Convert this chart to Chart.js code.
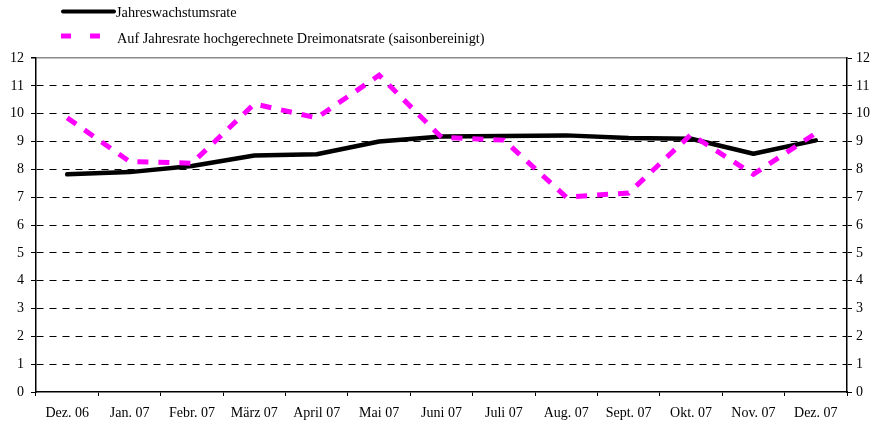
<!DOCTYPE html>
<html>
<head>
<meta charset="utf-8">
<script src="https://cdn.jsdelivr.net/npm/chart.js@4/dist/chart.umd.min.js"></script>
<style>
html,body{margin:0;padding:0;background:#fff;}
#wrap{width:874px;height:425px;position:relative;}
</style>
</head>
<body>
<div id="wrap"><canvas id="c" width="874" height="425"></canvas></div>
<script>
const categories = ["Dez. 06","Jan. 07","Febr. 07","März 07","April 07","Mai 07","Juni 07","Juli 07","Aug. 07","Sept. 07","Okt. 07","Nov. 07","Dez. 07"];
const annualGrowth = [7.82, 7.9, 8.12, 8.5, 8.54, 9.0, 9.18, 9.2, 9.22, 9.13, 9.1, 8.56, 9.04];
const threeMonthRate = [9.85, 8.28, 8.22, 10.35, 9.85, 11.38, 9.15, 9.05, 7.0, 7.15, 9.25, 7.82, 9.3];
const yTicks = [0,1,2,3,4,5,6,7,8,9,10,11,12];
const seriesNames = ["Jahreswachstumsrate", "Auf Jahresrate hochgerechnete Dreimonatsrate (saisonbereinigt)"];

const FONT = "'Liberation Serif', 'Times New Roman', serif";

const legendPlugin = {
  id: 'customLegend',
  afterDraw(chart) {
    const ctx = chart.ctx;
    ctx.save();
    ctx.strokeStyle = '#000';
    ctx.lineWidth = 4;
    ctx.lineCap = 'round';
    ctx.beginPath();
    ctx.moveTo(63, 11.5);
    ctx.lineTo(114, 11.5);
    ctx.stroke();
    ctx.strokeStyle = '#ff00ff';
    ctx.lineWidth = 5;
    ctx.lineCap = 'butt';
    ctx.setLineDash([10, 19]);
    ctx.beginPath();
    ctx.moveTo(61, 36);
    ctx.lineTo(101, 36);
    ctx.stroke();
    ctx.setLineDash([]);
    ctx.fillStyle = '#000';
    ctx.font = "14.3px " + FONT;
    ctx.textBaseline = 'alphabetic';
    ctx.textAlign = 'left';
    ctx.fillText(seriesNames[0], 116, 17);
    ctx.fillText(seriesNames[1], 117, 43);
    ctx.restore();
  }
};

new Chart(document.getElementById('c'), {
  type: 'line',
  data: {
    labels: categories,
    datasets: [
      {
        label: seriesNames[1],
        data: threeMonthRate,
        borderColor: '#ff00ff',
        borderWidth: 5,
        borderDash: [11, 10],
        borderCapStyle: 'butt',
        pointRadius: 0,
        tension: 0,
        fill: false,
        yAxisID: 'y'
      },
      {
        label: seriesNames[0],
        data: annualGrowth,
        borderColor: '#000',
        borderWidth: 4.5,
        borderCapStyle: 'round',
        borderJoinStyle: 'round',
        pointRadius: 0,
        tension: 0,
        fill: false,
        yAxisID: 'y'
      }
    ]
  },
  options: {
    responsive: false,
    animation: false,
    devicePixelRatio: 1,
    layout: { padding: { top: 58, left: 0, right: 0, bottom: 0 } },
    plugins: {
      legend: { display: false },
      tooltip: { enabled: false }
    },
    scales: {
      x: {
        type: 'category',
        offset: true,
        afterFit(s) { s.height = 33; },
        grid: {
          offset: true,
          drawOnChartArea: false,
          drawTicks: true,
          tickLength: 4,
          tickColor: '#000',
          color: '#000'
        },
        border: { display: true, color: '#000', width: 1.5 },
        ticks: {
          color: '#000',
          font: { family: FONT, size: 14 },
          padding: 9,
          maxRotation: 0,
          autoSkip: false
        }
      },
      y: {
        position: 'left',
        min: 0,
        max: 12,
        afterFit(s) { s.width = 36; },
        afterBuildTicks(s) { s.ticks = yTicks.map(v => ({ value: v })); },
        grid: {
          drawOnChartArea: true,
          drawTicks: true,
          tickLength: 5,
          tickColor: '#000',
          color: (c) => c.tick && c.tick.value === 12 ? '#8a8a8a' : (c.tick && c.tick.value === 0 ? 'rgba(0,0,0,0)' : '#000'),
          lineWidth: (c) => c.tick && c.tick.value === 12 ? 1.5 : 1
        },
        border: {
          display: true,
          color: '#000',
          width: 1.5,
          dash: (c) => c.tick && c.tick.value === 12 ? [] : [7, 6]
        },
        ticks: {
          color: '#000',
          font: { family: FONT, size: 14 },
          padding: 7,
          stepSize: 1
        }
      },
      y2: {
        position: 'right',
        min: 0,
        max: 12,
        afterFit(s) { s.width = 27; },
        afterBuildTicks(s) { s.ticks = yTicks.map(v => ({ value: v })); },
        grid: {
          drawOnChartArea: false,
          drawTicks: true,
          tickLength: 5,
          tickColor: '#000',
          color: '#000'
        },
        border: { display: true, color: '#000', width: 1.5 },
        ticks: {
          color: '#000',
          font: { family: FONT, size: 14 },
          padding: 4,
          stepSize: 1
        }
      }
    }
  },
  plugins: [legendPlugin]
});
</script>
</body>
</html>
